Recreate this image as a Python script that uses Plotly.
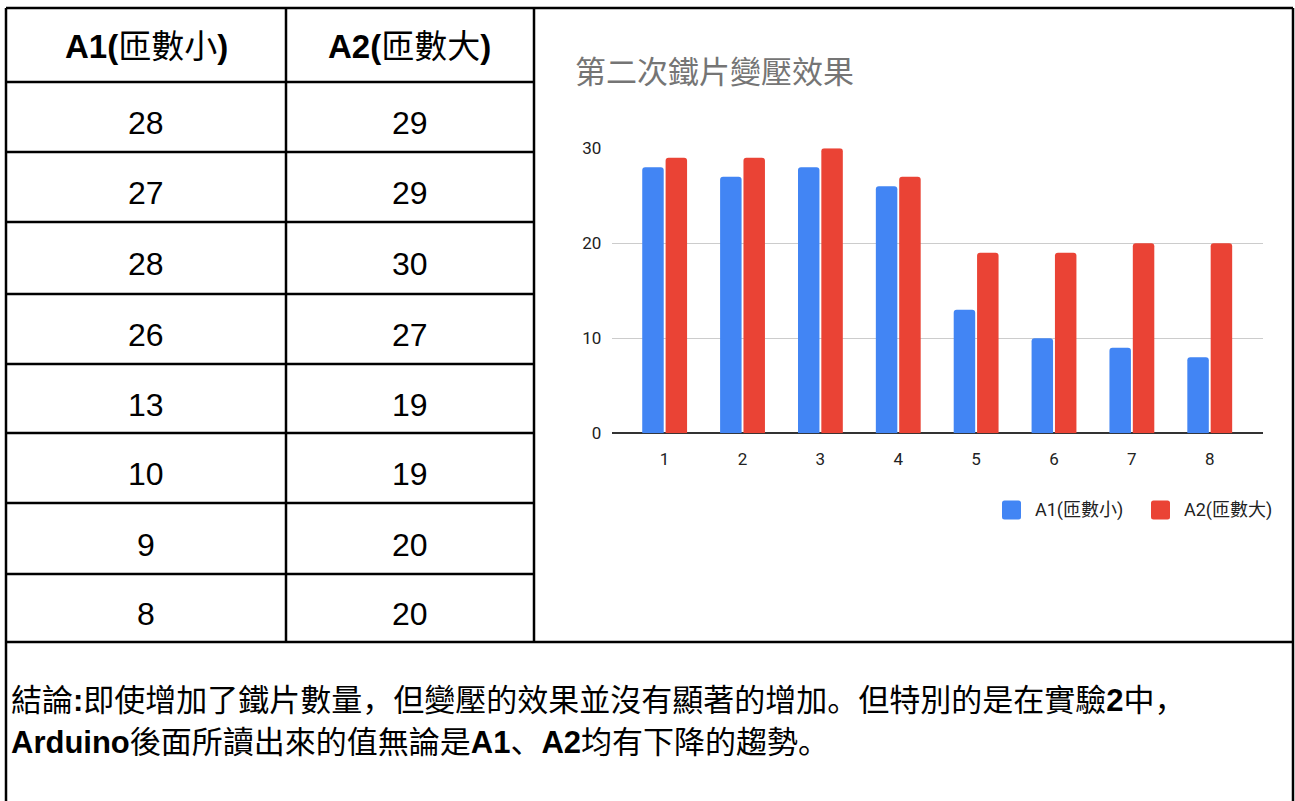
import plotly.graph_objects as go

# ---- data -------------------------------------------------------------
categories = ["1", "2", "3", "4", "5", "6", "7", "8"]
a1_values = [28, 27, 28, 26, 13, 10, 9, 8]
a2_values = [29, 29, 30, 27, 19, 19, 20, 20]
series_names = ["A1(匝數小)", "A2(匝數大)"]
series_colors = ["#4285F4", "#EA4335"]
header_labels = ["<b>A1(</b>匝數小<b>)</b>", "<b>A2(</b>匝數大<b>)</b>"]
chart_title = "第二次鐵片變壓效果"
y_ticks = [0, 10, 20, 30]
conclusion_lines = [
    "結論<b>:</b>即使增加了鐵片數量，但變壓的效果並沒有顯著的增加。但特別的是在實驗<b>2</b>中，",
    "<b>Arduino</b>後面所讀出來的值無論是<b>A1</b>、<b>A2</b>均有下降的趨勢。",
]

# ---- page geometry (pixels) ------------------------------------------
W, H = 1295, 801


def px(x):
    return x / W


def py(y):
    return 1 - y / H


LEFT, RIGHT, TOP = 6, 1293, 8
COL_SPLIT, TABLE_RIGHT = 286, 534
ROW_LINES = [8, 82, 152, 222, 294, 364, 433, 503, 574, 642]
TABLE_FONT = "Liberation Sans, Arial, Noto Sans CJK SC"
CHART_FONT = "Roboto, Noto Sans CJK SC"

fig = go.Figure()

for name, vals, col in zip(series_names, [a1_values, a2_values], series_colors):
    fig.add_trace(go.Bar(x=categories, y=vals, name=name, showlegend=False,
                         marker=dict(color=col, line=dict(width=0))))

# ---- table grid lines and outer frame ---------------------------------
shapes = []
line_style = dict(color="#000000", width=2.5)


def seg(x0, y0, x1, y1):
    shapes.append(dict(type="line", xref="paper", yref="paper",
                       x0=px(x0), y0=py(y0), x1=px(x1), y1=py(y1),
                       line=line_style, layer="above"))


seg(LEFT, TOP, RIGHT, TOP)
seg(LEFT, TOP, LEFT, H)
seg(RIGHT, TOP, RIGHT, H)
seg(COL_SPLIT, TOP, COL_SPLIT, ROW_LINES[-1])
seg(TABLE_RIGHT, TOP, TABLE_RIGHT, ROW_LINES[-1])
for y in ROW_LINES[1:-1]:
    seg(LEFT, y, TABLE_RIGHT, y)
seg(LEFT, ROW_LINES[-1], RIGHT, ROW_LINES[-1])

# ---- table text -------------------------------------------------------
annotations = []
col_centers = [(LEFT + COL_SPLIT) / 2, (COL_SPLIT + TABLE_RIGHT) / 2]


def cell_text(text, xc, yc, size):
    annotations.append(dict(text=text, x=px(xc), y=py(yc), xref="paper", yref="paper",
                            xanchor="center", yanchor="middle", showarrow=False,
                            font=dict(family=TABLE_FONT, size=size, color="#000000")))


for ci, label in enumerate(header_labels):
    cell_text(label, col_centers[ci], 46, 33)

for ri in range(len(categories)):
    yc = (ROW_LINES[ri + 1] + ROW_LINES[ri + 2]) / 2 + 6
    cell_text(str(a1_values[ri]), col_centers[0], yc, 32)
    cell_text(str(a2_values[ri]), col_centers[1], yc, 32)

# ---- chart title -------------------------------------------------------
annotations.append(dict(text=chart_title, x=px(573), y=py(72), xref="paper", yref="paper",
                        xanchor="left", yanchor="middle", showarrow=False,
                        font=dict(family=CHART_FONT, size=31, color="#757575")))

# ---- legend (square swatches + labels) -------------------------------
legend_swatch_x = [1002, 1151]
legend_text_x = [1033, 1182]
LEG_Y, SW = 510, 19


def rounded_square(x0, yc, size, r=2.5):
    x1 = x0 + size
    y0, y1 = yc - size / 2, yc + size / 2
    pts = [
        f"M{px(x0 + r)},{py(y0)}", f"L{px(x1 - r)},{py(y0)}",
        f"Q{px(x1)},{py(y0)} {px(x1)},{py(y0 + r)}", f"L{px(x1)},{py(y1 - r)}",
        f"Q{px(x1)},{py(y1)} {px(x1 - r)},{py(y1)}", f"L{px(x0 + r)},{py(y1)}",
        f"Q{px(x0)},{py(y1)} {px(x0)},{py(y1 - r)}", f"L{px(x0)},{py(y0 + r)}",
        f"Q{px(x0)},{py(y0)} {px(x0 + r)},{py(y0)}", "Z",
    ]
    return " ".join(pts)


for name, col, sx, tx in zip(series_names, series_colors, legend_swatch_x, legend_text_x):
    shapes.append(dict(type="path", xref="paper", yref="paper",
                       path=rounded_square(sx, LEG_Y, SW),
                       fillcolor=col, line=dict(width=0)))
    annotations.append(dict(text=name, x=px(tx), y=py(LEG_Y), xref="paper", yref="paper",
                            xanchor="left", yanchor="middle", showarrow=False,
                            font=dict(family=CHART_FONT, size=18, color="#222222")))

# ---- conclusion -------------------------------------------------------
for i, line in enumerate(conclusion_lines):
    annotations.append(dict(text=line, x=px(9), y=py(700 + 42 * i), xref="paper", yref="paper",
                            xanchor="left", yanchor="middle", showarrow=False, align="left",
                            font=dict(family=TABLE_FONT, size=31, color="#000000")))

fig.update_layout(
    width=W, height=H,
    margin=dict(l=0, r=0, t=0, b=0, pad=0, autoexpand=False),
    paper_bgcolor="#ffffff", plot_bgcolor="#ffffff",
    barmode="group", bargap=0.4, bargroupgap=0.08, barcornerradius=3,
    shapes=shapes, annotations=annotations,
    showlegend=False,
    xaxis=dict(domain=[px(611.7), px(1262.7)], type="category", range=[-0.68, 7.68],
               showgrid=False, showline=False, zeroline=False, fixedrange=True,
               automargin=False,
               ticks="outside", ticklen=10, tickcolor="rgba(0,0,0,0)",
               tickfont=dict(family=CHART_FONT, size=17, color="#222222")),
    yaxis=dict(domain=[py(433.3), py(148.3)], range=[0, 30], tickvals=y_ticks,
               showgrid=True, gridcolor="#cccccc", gridwidth=1, fixedrange=True,
               automargin=False,
               zeroline=True, zerolinecolor="#333333", zerolinewidth=1.5,
               showline=False, ticks="outside", ticklen=6, tickcolor="rgba(0,0,0,0)",
               tickfont=dict(family=CHART_FONT, size=17, color="#222222")),
)

fig.write_html("out.html")
